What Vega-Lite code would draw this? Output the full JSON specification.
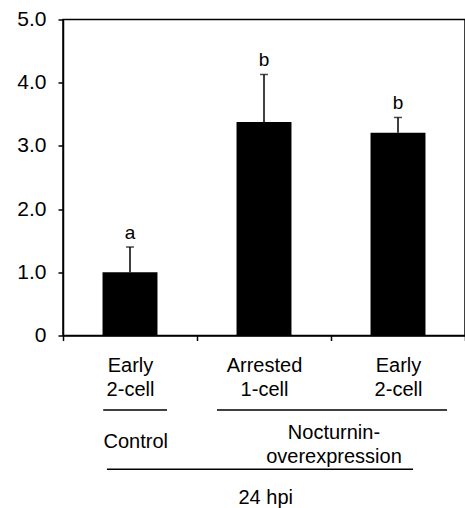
{
  "$schema": "https://vega.github.io/schema/vega-lite/v6.json",
  "autosize": "none",
  "padding": {"left": 63, "top": 19.5, "right": 0, "bottom": 172.5},
  "width": 402,
  "height": 316,
  "config": {
    "font": "Liberation Sans",
    "view": {"stroke": "black", "strokeWidth": 1.5},
    "axis": {"labelColor": "black", "domainColor": "black", "tickColor": "black", "labelFont": "Liberation Sans"}
  },
  "layer": [
    {
      "data": {
        "values": [
          {"cond": "C: Early 2-cell", "mean": 1.0, "upper": 1.4, "sig": "a"},
          {"cond": "N: Arrested 1-cell", "mean": 3.38, "upper": 4.13, "sig": "b"},
          {"cond": "N: Early 2-cell", "mean": 3.21, "upper": 3.45, "sig": "b"}
        ]
      },
      "encoding": {
        "x": {
          "field": "cond",
          "type": "nominal",
          "sort": null,
          "scale": {"paddingInner": 0, "paddingOuter": 0},
          "axis": {
            "title": null,
            "labelAngle": 0,
            "labelExpr": "split(slice(datum.label, 3), ' ')",
            "labelFontSize": 20,
            "labelLineHeight": 23.5,
            "labelPadding": 15,
            "labelBaseline": "top",
            "tickBand": "extent",
            "tickSize": 5,
            "tickWidth": 1.5,
            "domainWidth": 1.5
          }
        }
      },
      "layer": [
        {
          "mark": {"type": "bar", "color": "black", "width": {"band": 0.41}},
          "encoding": {
            "y": {
              "field": "mean",
              "type": "quantitative",
              "scale": {"domain": [0, 5], "nice": false},
              "axis": {
                "title": null,
                "values": [0, 1, 2, 3, 4, 5],
                "labelExpr": "datum.value == 0 ? '0' : format(datum.value, '.1f')",
                "labelFontSize": 21,
                "labelPadding": 12,
                "tickSize": 5,
                "tickWidth": 1.5,
                "domainWidth": 1.5,
                "grid": false
              }
            }
          }
        },
        {
          "mark": {"type": "rule", "color": "black", "strokeWidth": 1.5},
          "encoding": {
            "y": {"field": "mean", "type": "quantitative"},
            "y2": {"field": "upper"}
          }
        },
        {
          "mark": {"type": "tick", "color": "black", "thickness": 1.5, "size": 8, "orient": "horizontal"},
          "encoding": {
            "y": {"field": "upper", "type": "quantitative"}
          }
        },
        {
          "mark": {"type": "text", "color": "black", "fontSize": 19, "baseline": "middle", "dy": -14},
          "encoding": {
            "y": {"field": "upper", "type": "quantitative"},
            "text": {"field": "sig"}
          }
        }
      ]
    },
    {
      "data": {
        "values": [
          {"kind": "line", "start": 0.30, "end": 0.776, "level": -1.179},
          {"kind": "line", "start": 1.149, "end": 2.866, "level": -1.179},
          {"kind": "line", "start": 0.328, "end": 2.612, "level": -2.117}
        ]
      },
      "mark": {"type": "rule", "color": "black", "strokeWidth": 1.5},
      "encoding": {
        "x": {"field": "start", "type": "quantitative", "scale": {"domain": [0, 3], "nice": false, "zero": false}, "axis": null},
        "x2": {"field": "end"},
        "y": {"field": "level", "type": "quantitative"}
      }
    },
    {
      "data": {
        "values": [
          {"label": "Control", "pos": 0.543, "level": -1.68},
          {"label": "Nocturnin-\noverexpression", "pos": 2.022, "level": -1.543},
          {"label": "24 hpi", "pos": 1.513, "level": -2.566}
        ]
      },
      "mark": {"type": "text", "color": "black", "fontSize": 20, "baseline": "middle", "lineBreak": "\n", "lineHeight": 23.5},
      "encoding": {
        "x": {"field": "pos", "type": "quantitative", "scale": {"domain": [0, 3], "nice": false, "zero": false}, "axis": null},
        "y": {"field": "level", "type": "quantitative"},
        "text": {"field": "label"}
      }
    }
  ],
  "resolve": {"scale": {"x": "independent"}, "axis": {"x": "independent"}}
}
